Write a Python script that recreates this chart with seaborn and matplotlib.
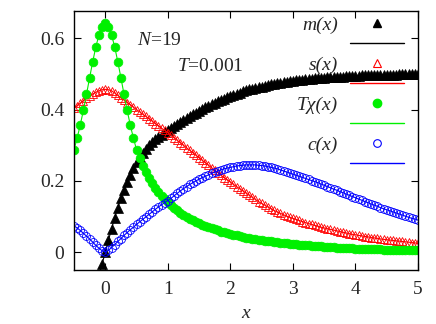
import matplotlib
matplotlib.use("Agg")
import matplotlib.pyplot as plt
from matplotlib.lines import Line2D
import seaborn as sns
import numpy as np

# ---------------- data ----------------
x = [-0.50, -0.45, -0.40, -0.35, -0.30, -0.25, -0.20, -0.15, -0.10, -0.05,
     0.00, 0.05, 0.10, 0.15, 0.20, 0.25, 0.30, 0.35, 0.40, 0.45,
     0.50, 0.55, 0.60, 0.65, 0.70, 0.75, 0.80, 0.85, 0.90, 0.95,
     1.00, 1.05, 1.10, 1.15, 1.20, 1.25, 1.30, 1.35, 1.40, 1.45,
     1.50, 1.55, 1.60, 1.65, 1.70, 1.75, 1.80, 1.85, 1.90, 1.95,
     2.00, 2.05, 2.10, 2.15, 2.20, 2.25, 2.30, 2.35, 2.40, 2.45,
     2.50, 2.55, 2.60, 2.65, 2.70, 2.75, 2.80, 2.85, 2.90, 2.95,
     3.00, 3.05, 3.10, 3.15, 3.20, 3.25, 3.30, 3.35, 3.40, 3.45,
     3.50, 3.55, 3.60, 3.65, 3.70, 3.75, 3.80, 3.85, 3.90, 3.95,
     4.00, 4.05, 4.10, 4.15, 4.20, 4.25, 4.30, 4.35, 4.40, 4.45,
     4.50, 4.55, 4.60, 4.65, 4.70, 4.75, 4.80, 4.85, 4.90, 4.95,
     5.00]

m_vals = [-0.252, -0.236, -0.217, -0.197, -0.175, -0.151, -0.125, -0.096, -0.065, -0.033,
          0.000, 0.033, 0.065, 0.096, 0.125, 0.151, 0.175, 0.197, 0.217, 0.236,
          0.252, 0.266, 0.279, 0.290, 0.300, 0.309, 0.317, 0.324, 0.330, 0.336,
          0.342, 0.348, 0.354, 0.360, 0.366, 0.372, 0.377, 0.382, 0.387, 0.392,
          0.397, 0.402, 0.407, 0.411, 0.415, 0.419, 0.423, 0.427, 0.431, 0.435,
          0.439, 0.442, 0.445, 0.448, 0.451, 0.454, 0.457, 0.459, 0.461, 0.463,
          0.465, 0.467, 0.469, 0.471, 0.473, 0.474, 0.476, 0.477, 0.479, 0.480,
          0.481, 0.482, 0.483, 0.484, 0.485, 0.486, 0.487, 0.488, 0.489, 0.489,
          0.490, 0.491, 0.491, 0.492, 0.492, 0.493, 0.493, 0.494, 0.494, 0.495,
          0.495, 0.495, 0.496, 0.496, 0.496, 0.497, 0.497, 0.497, 0.497, 0.498,
          0.498, 0.498, 0.498, 0.498, 0.499, 0.499, 0.499, 0.499, 0.499, 0.499,
          0.500]

s_vals = [0.404, 0.411, 0.418, 0.425, 0.432, 0.438, 0.444, 0.449, 0.453, 0.456,
          0.457, 0.456, 0.453, 0.447, 0.440, 0.433, 0.427, 0.420, 0.414, 0.407,
          0.400, 0.394, 0.387, 0.381, 0.374, 0.368, 0.361, 0.355, 0.348, 0.342,
          0.335, 0.328, 0.321, 0.314, 0.307, 0.300, 0.293, 0.286, 0.279, 0.272,
          0.265, 0.258, 0.251, 0.244, 0.237, 0.230, 0.223, 0.216, 0.209, 0.203,
          0.197, 0.190, 0.184, 0.178, 0.172, 0.166, 0.160, 0.154, 0.148, 0.142,
          0.137, 0.132, 0.127, 0.122, 0.117, 0.113, 0.109, 0.105, 0.101, 0.098,
          0.095, 0.092, 0.089, 0.086, 0.083, 0.080, 0.078, 0.075, 0.073, 0.070,
          0.068, 0.066, 0.064, 0.062, 0.060, 0.058, 0.056, 0.054, 0.052, 0.050,
          0.049, 0.047, 0.046, 0.044, 0.043, 0.041, 0.040, 0.039, 0.037, 0.036,
          0.035, 0.034, 0.033, 0.032, 0.031, 0.030, 0.029, 0.028, 0.027, 0.026,
          0.025]

tchi_vals = [0.288, 0.320, 0.357, 0.398, 0.443, 0.490, 0.535, 0.577, 0.610, 0.632,
             0.642, 0.632, 0.610, 0.577, 0.535, 0.490, 0.443, 0.398, 0.357, 0.320,
             0.288, 0.264, 0.243, 0.225, 0.209, 0.194, 0.181, 0.168, 0.158, 0.149,
             0.140, 0.132, 0.124, 0.117, 0.111, 0.105, 0.099, 0.094, 0.089, 0.085,
             0.081, 0.077, 0.073, 0.070, 0.067, 0.064, 0.061, 0.058, 0.056, 0.053,
             0.051, 0.049, 0.047, 0.045, 0.043, 0.041, 0.040, 0.038, 0.037, 0.035,
             0.034, 0.032, 0.031, 0.030, 0.029, 0.028, 0.027, 0.026, 0.025, 0.024,
             0.023, 0.022, 0.021, 0.020, 0.019, 0.019, 0.018, 0.017, 0.017, 0.016,
             0.015, 0.015, 0.014, 0.014, 0.013, 0.013, 0.012, 0.012, 0.011, 0.011,
             0.010, 0.010, 0.0095, 0.009, 0.0088, 0.0085, 0.0082, 0.008, 0.0077, 0.0074,
             0.0072, 0.007, 0.0068, 0.0066, 0.0064, 0.0062, 0.006, 0.0058, 0.0056, 0.0055,
             0.0053]

c_vals = [0.074, 0.068, 0.061, 0.053, 0.045, 0.037, 0.028, 0.019, 0.011, 0.004,
          0.001, 0.005, 0.013, 0.021, 0.030, 0.038, 0.047, 0.055, 0.063, 0.070,
          0.078, 0.085, 0.092, 0.099, 0.106, 0.113, 0.120, 0.127, 0.133, 0.139,
          0.145, 0.151, 0.158, 0.165, 0.172, 0.178, 0.184, 0.190, 0.195, 0.200,
          0.205, 0.209, 0.213, 0.217, 0.221, 0.225, 0.228, 0.231, 0.234, 0.236,
          0.238, 0.240, 0.242, 0.243, 0.244, 0.245, 0.245, 0.245, 0.245, 0.244,
          0.243, 0.242, 0.240, 0.238, 0.236, 0.234, 0.231, 0.228, 0.225, 0.222,
          0.219, 0.216, 0.213, 0.210, 0.207, 0.204, 0.201, 0.198, 0.195, 0.191,
          0.188, 0.184, 0.181, 0.177, 0.174, 0.170, 0.167, 0.163, 0.160, 0.156,
          0.153, 0.149, 0.146, 0.142, 0.139, 0.135, 0.132, 0.129, 0.125, 0.122,
          0.119, 0.116, 0.113, 0.110, 0.107, 0.104, 0.101, 0.098, 0.095, 0.093,
          0.090]

series_labels = ["m(x)", "s(x)", "Tχ(x)", "c(x)"]
x_ticks = [0, 1, 2, 3, 4, 5]
x_ticklabels = ["0", "1", "2", "3", "4", "5"]
y_ticks = [0, 0.2, 0.4, 0.6]
y_ticklabels = ["0", "0.2", "0.4", "0.6"]
annot_N = "$N$=19"
annot_T = "$T$=0.001"

# ---------------- style ----------------
sns.set_style("ticks")
plt.rcParams["font.family"] = ["Liberation Serif", "DejaVu Serif"]
plt.rcParams["mathtext.fontset"] = "custom"
plt.rcParams["mathtext.rm"] = "Liberation Serif"
plt.rcParams["mathtext.it"] = "Liberation Serif:italic"
plt.rcParams["xtick.direction"] = "in"
plt.rcParams["ytick.direction"] = "in"
FS = 14

fig = plt.figure(figsize=(4.36, 3.24), dpi=100)
ax = fig.add_axes([0.1697, 0.1667, 0.7890, 0.7994])

RED = "#ff0000"
GREEN = "#00f000"
BLUE = "#0000ff"

sns.lineplot(x=x, y=m_vals, ax=ax, color="black", lw=0.8, marker="^", ms=6.5,
             mfc="black", mec="black", mew=0.5)
sns.lineplot(x=x, y=s_vals, ax=ax, color=RED, lw=0.8, marker="^", ms=6.4,
             mfc="none", mec=RED, mew=0.6)
sns.lineplot(x=x, y=tchi_vals, ax=ax, color=GREEN, lw=0.8, marker="o", ms=6.3,
             mfc=GREEN, mec=GREEN, mew=0.5)
sns.lineplot(x=x, y=c_vals, ax=ax, color=BLUE, lw=0.8, marker="o", ms=5.7,
             mfc="none", mec=BLUE, mew=0.6)

ax.set_xlim(-0.5, 5.0)
ax.set_ylim(-0.05, 0.677)
ax.set_xticks(x_ticks)
ax.set_xticklabels(x_ticklabels)
ax.set_yticks(y_ticks)
ax.set_yticklabels(y_ticklabels)
ax.tick_params(axis="both", which="both", direction="in", top=True, right=True,
               length=5, width=0.8, labelsize=FS, color="black")
ax.tick_params(axis="x", pad=8)
ax.tick_params(axis="y", pad=7)
for sp in ax.spines.values():
    sp.set_visible(True)
    sp.set_linewidth(1.0)
    sp.set_color("black")

ax.set_xlabel("x", fontsize=FS, fontstyle="italic", labelpad=5)
ax.set_ylabel("")

ax.text(0.183, 0.869, annot_N, transform=ax.transAxes, fontsize=FS, ha="left", va="baseline")
ax.text(0.299, 0.768, annot_T, transform=ax.transAxes, fontsize=FS, ha="left", va="baseline")

handles = [
    Line2D([], [], ls="none", marker="^", ms=6, mfc="black", mec="black"),
    Line2D([], [], color="black", lw=1.0),
    Line2D([], [], ls="none", marker="^", ms=6, mfc="none", mec=RED, mew=0.8),
    Line2D([], [], color=RED, lw=1.0),
    Line2D([], [], ls="none", marker="o", ms=6, mfc=GREEN, mec=GREEN),
    Line2D([], [], color=GREEN, lw=1.0),
    Line2D([], [], ls="none", marker="o", ms=5.5, mfc="none", mec=BLUE, mew=0.8),
    Line2D([], [], color=BLUE, lw=1.0),
]
labels = [series_labels[0], " ", series_labels[1], " ", series_labels[2], " ",
          series_labels[3], " "]
ax.legend(handles, labels, loc="upper right", bbox_to_anchor=(0.960, 0.978),
          markerfirst=False, frameon=False,
          prop={"family": ["Liberation Serif", "DejaVu Serif"], "style": "italic", "size": FS},
          handlelength=2.8, handletextpad=0.6, labelspacing=0.12,
          borderaxespad=0.0, borderpad=0.0)

fig.savefig("out.png", dpi=100)
